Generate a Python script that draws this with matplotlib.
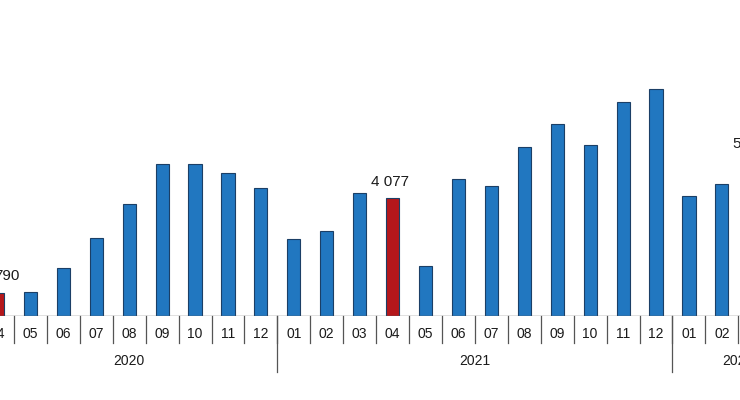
import numpy as np
import matplotlib
matplotlib.use("Agg")
import matplotlib.pyplot as plt

plt.rcParams['font.family'] = ['Liberation Sans', 'DejaVu Sans']

months = ["04", "05", "06", "07", "08", "09", "10", "11", "12",
          "01", "02", "03", "04", "05", "06", "07", "08", "09", "10", "11", "12",
          "01", "02", "03", "04"]
years = ["2020", "2021", "2022"]
year_len = [9, 12, 4]
values = [790, 842, 1652, 2712, 3869, 5270, 5265, 4964, 4423,
          2667, 2934, 4250, 4077, 1732, 4756, 4503, 5865, 6651, 5913, 7403, 7874,
          4157, 4583, 5380, 5650]
highlight = [0, 12, 24]          # April bars
labelled = {0: "790", 12: "4 077", 23: "5 380"}

blue = "#2177c0"
red = "#b5171b"
edge = "#1b3f66"

fig = plt.figure(figsize=(7.4, 4.0), dpi=100)
ax = fig.add_axes([0, 0.21, 1, 0.79])

x = np.arange(len(values))
colors = [red if i in highlight else blue for i in x]
ax.bar(x, values, width=0.4, color=colors, edgecolor=edge, linewidth=0.8, zorder=3)

ax.set_xlim(0.076, 22.55)
ax.set_ylim(0, 10946)
for s in ax.spines.values():
    s.set_visible(False)
ax.set_xticks([])
ax.set_yticks([])

tr = ax.get_xaxis_transform()
ax.axhline(0, color="#666666", lw=1, zorder=4)

# month separators and labels
for i, m in enumerate(months):
    ax.text(i, -0.0554, m, transform=tr, ha="center", va="center",
            fontsize=10, color="#1a1a1a", clip_on=False)
    ax.plot([i + 0.5, i + 0.5], [0, -0.0854], transform=tr,
            color="#555555", lw=0.9, clip_on=False)

# year separators and labels
start = 0
for y, n in zip(years, year_len):
    ax.text(start + (n - 1) / 2, -0.1424, y, transform=tr, ha="center",
            va="center", fontsize=10, color="#1a1a1a", clip_on=False)
    end = start + n - 0.5
    ax.plot([end, end], [0, -0.177], transform=tr,
            color="#555555", lw=0.9, clip_on=False)
    start += n

for i, txt in labelled.items():
    dx = 7 if i == 0 else -2
    ax.annotate(txt, (i, values[i]), xytext=(dx, 7), textcoords="offset points",
                ha="center", va="bottom", fontsize=11, color="#1a1a1a",
                annotation_clip=False)

fig.savefig("out.png", dpi=100)
